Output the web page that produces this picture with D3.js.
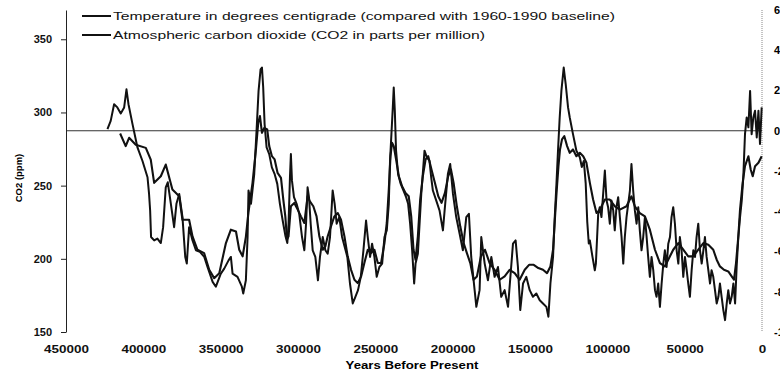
<!DOCTYPE html>
<html>
<head>
<meta charset="utf-8">
<script src="https://cdn.jsdelivr.net/npm/d3@7"></script>
<style>
  body { margin: 0; background: #fff; }
  svg { display: block; font-family: 'Liberation Sans', Arial, sans-serif; }
</style>
</head>
<body>
<div id="chart"></div>
<script>
// [years before present, degrees C relative to 1960-1990]
var temperatureSeries = [
  [423200, 0.08], [421100, 0.49], [418900, 1.32], [416800, 1.16], [414600, 0.86], [412400, 1.16],
  [410900, 2.06], [409600, 1.32], [407000, 0.33], [403800, -0.83], [400600, -1.49], [397300, -2.31],
  [396300, -3.14], [395600, -3.96], [395000, -5.28], [393000, -5.45], [390900, -5.36], [388700, -5.58],
  [387200, -4.79], [385500, -2.81], [384200, -2.56], [382200, -3.63], [380100, -4.79], [378600, -3.63],
  [376800, -3.14], [374700, -4.29], [372900, -6.27], [371900, -6.6], [370400, -4.79], [368200, -5.45],
  [366000, -5.94], [363400, -6.02], [360600, -6.27], [358500, -6.77], [355200, -7.51], [353100, -7.75],
  [349900, -7.1], [347700, -6.85], [344900, -6.44], [343400, -6.27], [342300, -7.1], [339100, -7.26],
  [336300, -7.75], [335400, -8.09], [333700, -7.43], [332600, -5.28], [332000, -2.97], [330400, -3.63],
  [328300, -2.15], [326800, 0.0], [325500, 1.98], [324200, 3.05], [323300, 3.14], [322500, 2.15],
  [321600, 0.33], [320300, -0.83], [318600, -1.16], [316900, -1.82], [315100, -2.15], [313400, -2.64],
  [311700, -3.63], [309900, -4.46], [308200, -5.2], [306900, -5.58], [306100, -4.62], [305200, -2.31],
  [304600, -1.16], [303900, -2.48], [302600, -3.3], [300900, -3.63], [299200, -4.13], [297400, -5.28],
  [295900, -5.94], [294800, -4.62], [293800, -2.81], [292900, -3.3], [291800, -4.62], [290500, -5.94],
  [288800, -6.27], [287100, -7.43], [285800, -6.27], [284000, -5.28], [282300, -5.94], [280800, -6.11],
  [279300, -5.28], [277600, -2.97], [276300, -3.63], [275000, -4.62], [273300, -4.29], [271500, -5.28],
  [269800, -5.78], [268100, -6.27], [266400, -7.59], [264600, -8.58], [262900, -8.25], [261200, -7.92],
  [259400, -7.26], [257700, -5.94], [256000, -4.46], [254900, -5.28], [253400, -6.27], [252100, -5.61],
  [250600, -6.27], [249100, -7.26], [247400, -6.77], [245600, -6.6], [244100, -5.28], [242600, -4.95],
  [241300, -3.63], [240500, -1.49], [239600, -0.17], [238700, 1.16], [238100, 2.15], [237400, 0.99],
  [236600, -0.99], [235300, -2.15], [233600, -2.64], [231800, -2.97], [230100, -3.3], [228800, -3.63],
  [227500, -4.62], [226200, -5.94], [224900, -7.59], [224000, -6.6], [222500, -6.11], [220300, -3.14],
  [218200, -0.99], [216700, -1.32], [215000, -1.49], [213900, -2.31], [212800, -2.97], [210600, -3.47],
  [208500, -3.96], [206300, -4.95], [205200, -3.96], [203100, -2.15], [201600, -1.65], [199800, -3.14],
  [197700, -4.29], [195500, -5.12], [193400, -5.94], [191200, -4.29], [189500, -4.13], [188000, -6.27],
  [185800, -7.92], [184700, -8.75], [182600, -7.92], [181500, -5.28], [179300, -6.6], [177200, -7.43],
  [175000, -6.27], [172900, -7.26], [170700, -6.77], [168600, -8.25], [166400, -7.92], [164200, -8.75],
  [161000, -5.61], [159300, -5.45], [157800, -6.77], [156300, -8.91], [154500, -7.59], [152400, -7.26],
  [150200, -7.92], [148100, -8.25], [145900, -8.09], [143700, -8.42], [141600, -8.58], [139400, -8.75],
  [138100, -9.24], [136800, -7.59], [135100, -6.27], [134000, -4.29], [132900, -2.64], [131900, -0.99],
  [130800, 0.66], [129700, 1.98], [128200, 3.14], [126900, 2.31], [125400, 1.16], [124300, 0.66],
  [122200, -0.17], [120000, -0.99], [117800, -1.32], [116500, -1.8], [115200, -1.5], [114000, -2.6],
  [113000, -4.5], [112000, -5.6], [111300, -5.45], [109600, -6.27], [108100, -6.93], [107400, -6.6],
  [106600, -5.28], [105900, -4.13], [104900, -3.8], [103800, -4.29], [102700, -3.14], [101600, -1.98],
  [100500, -3.47], [99500, -3.8], [98400, -4.62], [97300, -3.47], [96200, -3.96], [95200, -4.95],
  [94100, -3.8], [93000, -3.3], [91900, -4.29], [90800, -5.28], [89700, -6.6], [88700, -5.28],
  [87600, -4.29], [86500, -3.63], [85400, -2.97], [84400, -1.65], [83300, -2.97], [82200, -3.96],
  [81100, -4.62], [80000, -3.8], [79000, -4.95], [77900, -5.94], [76800, -5.28], [75700, -4.29],
  [74600, -5.28], [73600, -6.27], [72500, -7.26], [71400, -6.27], [70300, -6.93], [69200, -7.92],
  [68200, -8.25], [67100, -7.59], [66000, -8.75], [64900, -7.59], [63800, -6.6], [62800, -5.94],
  [61700, -6.77], [60600, -5.61], [59500, -5.28], [58500, -4.29], [57400, -3.8], [56300, -4.62],
  [55200, -5.94], [54100, -6.6], [53100, -5.28], [52000, -5.94], [50900, -7.26], [49800, -6.27],
  [48700, -6.93], [47700, -7.59], [46600, -8.25], [45500, -6.93], [44400, -5.94], [43300, -6.27],
  [42300, -5.28], [41200, -4.62], [40100, -5.94], [39000, -6.6], [37900, -5.94], [36900, -5.28],
  [35800, -6.27], [34700, -6.93], [33600, -7.59], [32600, -6.93], [31500, -7.26], [30400, -7.92],
  [29300, -8.58], [28200, -8.25], [27200, -7.59], [26100, -8.25], [25000, -8.91], [23900, -9.41],
  [22800, -8.58], [21800, -7.92], [20700, -8.58], [19600, -8.25], [18500, -7.59], [17400, -8.58],
  [16400, -6.77], [15300, -5.28], [14200, -4.29], [13100, -3.47], [12100, -2.31], [11000, -0.17],
  [9900, 0.66], [8800, 0.17], [7700, 1.98], [6700, -0.17], [5600, 0.66], [4500, 0.99],
  [3400, -0.33], [2300, 0.99], [1300, -0.66], [200, 1.16]
]

// [years before present, CO2 ppm]
var co2Series = [
  [415000, 285.6], [411400, 277.0], [409200, 282.7], [404900, 278.0], [398400, 275.8], [395200, 267.8],
  [393000, 251.9], [388700, 256.4], [385500, 264.4], [381200, 247.3], [376800, 242.7], [374700, 226.7],
  [370400, 226.7], [368200, 215.3], [365000, 206.2], [360700, 203.9], [357400, 192.5], [354200, 186.8],
  [350900, 190.2], [346600, 210.8], [343400, 219.9], [340100, 218.7], [338000, 206.2], [335800, 201.7],
  [333700, 215.0], [332000, 232.0], [329400, 251.9], [327200, 274.7], [325700, 293.0], [324600, 297.5],
  [323300, 286.1], [321800, 289.5], [319900, 288.4], [318600, 277.0], [316900, 270.2], [315100, 267.9],
  [313200, 258.7], [311000, 255.3], [309500, 240.5], [308200, 229.0], [307100, 213.1], [306100, 215.4],
  [304600, 235.9], [302400, 238.2], [300200, 233.6], [298100, 229.0], [295900, 224.5], [293800, 242.7],
  [292300, 239.3], [290100, 235.9], [288000, 229.0], [286200, 215.4], [284000, 206.2], [282300, 208.5],
  [280800, 215.4], [278700, 222.2], [276500, 229.0], [274300, 231.3], [272200, 226.8], [270000, 215.4],
  [267900, 201.7], [265700, 192.5], [263500, 185.7], [261400, 183.4], [259200, 188.0], [257100, 197.1],
  [254900, 206.2], [252800, 203.9], [250600, 206.2], [248400, 197.1], [246300, 197.1], [244100, 210.8],
  [242600, 224.5], [241300, 247.3], [240200, 270.1], [239200, 279.3], [238100, 277.0], [236600, 267.9],
  [234800, 256.4], [232700, 249.6], [230500, 245.0], [228400, 242.7], [226800, 229.0], [225300, 206.2],
  [224000, 199.4], [222500, 215.4], [221000, 240.5], [219300, 256.4], [217500, 267.9], [215800, 270.1],
  [213700, 261.0], [211500, 251.9], [209300, 242.7], [207200, 238.2], [205000, 245.0], [202900, 256.4],
  [201100, 261.0], [199400, 251.9], [197300, 235.9], [195100, 222.2], [192900, 210.8], [190800, 203.9],
  [188600, 197.1], [186500, 185.7], [184300, 188.0], [181700, 201.7], [179100, 206.2], [176100, 197.1],
  [172900, 192.5], [169600, 185.7], [166400, 188.0], [163200, 192.5], [159900, 190.2], [156700, 185.7],
  [153400, 192.5], [150600, 195.9], [147600, 195.9], [144600, 193.7], [141600, 192.5], [139000, 190.2],
  [136800, 194.8], [135100, 206.2], [133800, 229.0], [132700, 247.3], [131600, 263.3], [130600, 274.7],
  [129300, 281.6], [127800, 283.8], [126000, 277.0], [124300, 272.4], [122200, 274.7], [120000, 270.1],
  [117800, 272.4], [115600, 270.1], [113500, 265.6], [111300, 251.9], [109200, 240.5], [107000, 231.3],
  [104800, 233.6], [101600, 240.5], [98400, 240.5], [95100, 235.9], [91900, 233.6], [87600, 235.9],
  [84400, 242.7], [82200, 235.9], [79000, 231.3], [75700, 229.0], [72500, 219.9], [69200, 206.2],
  [66000, 197.1], [62800, 194.8], [59500, 201.7], [57400, 206.2], [54100, 210.8], [50900, 206.2],
  [47700, 201.7], [44400, 201.7], [41200, 206.2], [37900, 210.8], [34700, 209.6], [31500, 206.2],
  [29300, 199.4], [27200, 194.8], [24600, 192.5], [21800, 191.4], [19600, 188.0], [18100, 185.7],
  [16800, 197.1], [15300, 215.4], [14200, 233.6], [12500, 251.9], [11000, 263.3], [8800, 270.1],
  [7300, 261.0], [6000, 256.4], [4500, 263.3], [2300, 265.6], [200, 270.1]
]

var co2Ticks = [150, 200, 250, 300, 350]
var tempTicks = [6, 4, 2, 0, -2, -4, -6, -8, -10]
var yearTicks = [450000, 400000, 350000, 300000, 250000, 200000, 150000, 100000, 50000, 0]
var legendLabels = [
  'Temperature in degrees centigrade (compared with 1960-1990 baseline)',
  'Atmospheric carbon dioxide (CO2 in parts per million)'
]

var width = 780
var height = 380

var svg = d3
  .select('#chart')
  .append('svg')
  .attr('width', width)
  .attr('height', height)

var xScale = d3.scaleLinear().domain([450000, 0]).range([66, 762])
var co2Scale = d3.scaleLinear().domain([150, 370]).range([332, 10])
var tempScale = d3.scaleLinear().domain([-10, 6]).range([332, 10])

// the scan is wider than it is tall, so stretch text sideways
function stretch(sel, k) {
  sel.each(function() {
    var w = this.getComputedTextLength()
    d3.select(this)
      .attr('textLength', w * k)
      .attr('lengthAdjust', 'spacingAndGlyphs')
  })
}

// right axis line (temperature), mostly cut off
svg
  .append('line')
  .attr('x1', xScale(0))
  .attr('x2', xScale(0))
  .attr('y1', tempScale(6))
  .attr('y2', tempScale(-10))
  .attr('stroke', '#888')
  .attr('stroke-dasharray', '1,1')

// the scan crops these labels at the page edge
svg
  .selectAll('.temp-tick')
  .data(tempTicks)
  .enter()
  .append('text')
  .attr('class', 'temp-tick')
  .attr('x', 774)
  .attr('y', d => tempScale(d))
  .attr('dy', '0.35em')
  .attr('font-size', 11)
  .attr('font-weight', 'bold')
  .text(d => (d < 0 ? '-' + Math.abs(d) : d))

// zero line of the temperature baseline
svg
  .append('line')
  .attr('x1', xScale(450000))
  .attr('x2', xScale(0))
  .attr('y1', tempScale(0))
  .attr('y2', tempScale(0))
  .attr('stroke', '#333')
  .attr('stroke-width', 1)

// left axis
var yAxis = d3
  .axisLeft(co2Scale)
  .tickValues(co2Ticks)
  .tickSize(5)
  .tickSizeOuter(0)
  .tickPadding(9)

var yG = svg
  .append('g')
  .attr('transform', 'translate(' + xScale(450000) + ',0)')
  .call(yAxis)

yG.select('.domain').attr('stroke', '#222')
yG.selectAll('.tick line').attr('stroke', '#222')
yG.selectAll('text')
  .attr('font-family', null)
  .attr('font-size', 11)
  .attr('font-weight', 'bold')
  .attr('fill', '#111')

// bottom axis, labels only
var xAxis = d3
  .axisBottom(xScale)
  .tickValues(yearTicks)
  .tickSize(0)
  .tickPadding(13)
  .tickFormat(d3.format('d'))

var xG = svg
  .append('g')
  .attr('transform', 'translate(0,332)')
  .call(xAxis)

xG.select('.domain').remove()
xG.selectAll('text')
  .attr('font-family', null)
  .attr('font-size', 11)
  .attr('font-weight', 'bold')
  .attr('fill', '#111')
  .call(stretch, 1.22)

// axis titles
svg
  .append('text')
  .attr('transform', 'translate(22,178) rotate(-90)')
  .attr('text-anchor', 'middle')
  .attr('font-size', 9.5)
  .attr('font-weight', 'bold')
  .text('CO2 (ppm)')

svg
  .append('text')
  .attr('x', 412)
  .attr('y', 369)
  .attr('text-anchor', 'middle')
  .attr('font-size', 11)
  .attr('font-weight', 'bold')
  .text('Years Before Present')
  .call(stretch, 1.2)

// data lines
var tempLine = d3
  .line()
  .x(d => xScale(d[0]))
  .y(d => tempScale(d[1]))

var co2Line = d3
  .line()
  .x(d => xScale(d[0]))
  .y(d => co2Scale(d[1]))

svg
  .append('path')
  .datum(co2Series)
  .attr('d', co2Line)
  .attr('fill', 'none')
  .attr('stroke', '#111')
  .attr('stroke-width', 2.1)
  .attr('stroke-linejoin', 'round')

svg
  .append('path')
  .datum(temperatureSeries)
  .attr('d', tempLine)
  .attr('fill', 'none')
  .attr('stroke', '#111')
  .attr('stroke-width', 2)
  .attr('stroke-linejoin', 'round')

// legend
var legend = svg
  .selectAll('.legend')
  .data(legendLabels)
  .enter()
  .append('g')
  .attr('class', 'legend')
  .attr('transform', (d, i) => 'translate(82,' + (16 + i * 19) + ')')

legend
  .append('line')
  .attr('x1', 0)
  .attr('x2', 29)
  .attr('stroke', '#111')
  .attr('stroke-width', 2)

legend
  .append('text')
  .attr('x', 31)
  .attr('dy', '0.35em')
  .attr('font-size', 11)
  .attr('fill', '#111')
  .text(d => d)

// fit the CO2 row to its width in the scan and use the same factor for both
var co2Text = legend.filter((d, i) => i === 1).select('text').node()
var k = 372 / co2Text.getComputedTextLength()
legend.selectAll('text').call(stretch, k)
</script>
</body>
</html>
